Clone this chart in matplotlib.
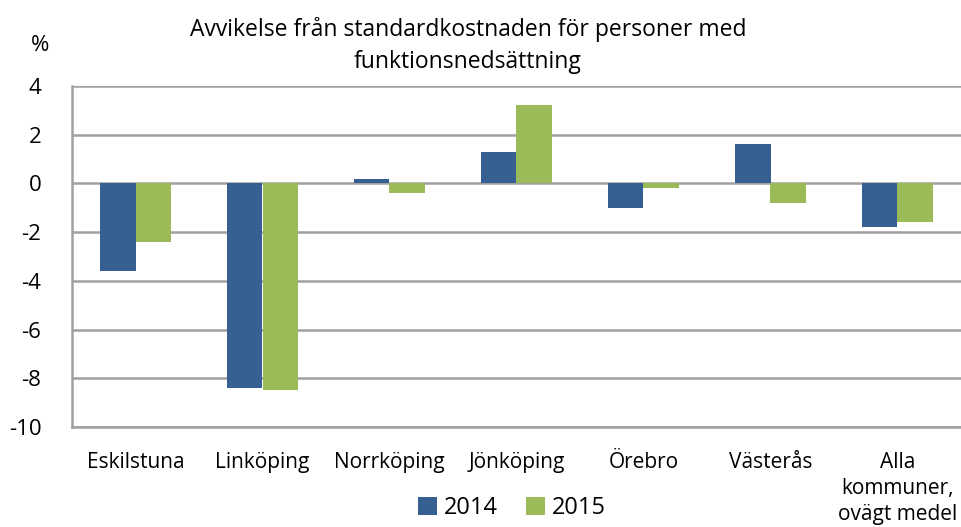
import matplotlib
matplotlib.use("Agg")
import matplotlib.pyplot as plt
import numpy as np

categories = ["Eskilstuna", "Linköping", "Norrköping", "Jönköping", "Örebro", "Västerås",
              "Alla\nkommuner,\novägt medel"]
v2014 = [-3.6, -8.4, 0.2, 1.3, -1.0, 1.6, -1.8]
v2015 = [-2.4, -8.5, -0.4, 3.2, -0.2, -0.8, -1.6]
yticks = [4, 2, 0, -2, -4, -6, -8, -10]

plt.rcParams['font.family'] = ['Open Sans', 'DejaVu Sans']

W, H = 962, 527
fig = plt.figure(figsize=(W/100, H/100), dpi=100)
ax = fig.add_axes([72/W, 1-427/H, (961-72)/W, (427-86)/H])

x = np.arange(len(categories))
bw = 0.283
c1, c2 = "#376092", "#9BBB59"
ax.bar(x - bw/2, v2014, bw, color=c1, label="2014", zorder=3)
ax.bar(x + bw/2, v2015, bw, color=c2, label="2015", zorder=3)

ax.set_xlim(-0.5, len(categories) - 0.5)
ax.set_ylim(-10, 4)
ax.set_yticks(yticks)
ax.set_yticklabels([str(t) for t in yticks], fontsize=16)
ax.yaxis.grid(True, color="#A0A0A0", linewidth=1.8, zorder=0)
ax.set_axisbelow(True)
ax.tick_params(axis='y', length=0, pad=22)
ax.tick_params(axis='x', length=0, pad=18)
ax.set_xticks(x)
ax.set_xticklabels(categories, fontsize=15, va='top', linespacing=1.3)
for s in ["top", "right"]:
    ax.spines[s].set_visible(False)
for s in ["left", "bottom"]:
    ax.spines[s].set_color("#A0A0A0")
    ax.spines[s].set_linewidth(1.8)

fig.text(468/W, 1-30/H, "Avvikelse från standardkostnaden för personer med", ha='center', va='center', fontsize=16.5)
fig.text(468/W, 1-62/H, "funktionsnedsättning", ha='center', va='center', fontsize=16.5)
fig.text(40/W, 1-45/H, "%", ha='center', va='center', fontsize=16)

leg = fig.legend(loc='center', bbox_to_anchor=(512/W, 1-508/H), ncol=2, frameon=False,
                 fontsize=17, handlelength=0.8, handleheight=0.8, handletextpad=0.3, columnspacing=1.2)

fig.savefig("out.png", dpi=100)
